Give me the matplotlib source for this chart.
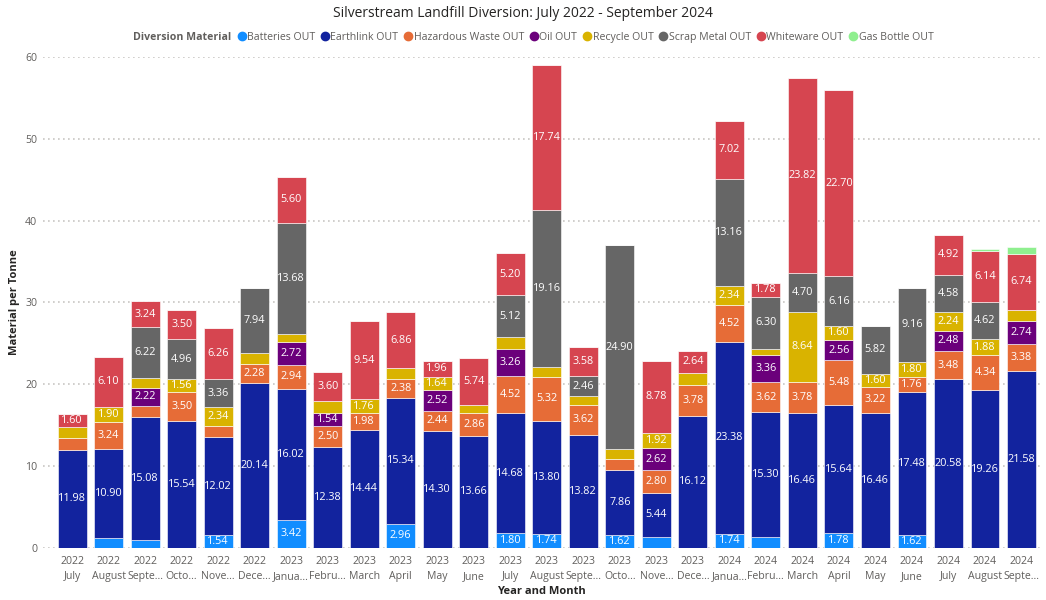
import matplotlib.pyplot as plt
import numpy as np
from matplotlib.lines import Line2D

plt.rcParams['font.family'] = ['Open Sans', 'DejaVu Sans']

years = ["2022"] * 6 + ["2023"] * 12 + ["2024"] * 9
months = ["July", "August", "Septe...", "Octo...", "Nove...", "Dece...",
          "Janua...", "Febru...", "March", "April", "May", "June",
          "July", "August", "Septe...", "Octo...", "Nove...", "Dece...",
          "Janua...", "Febru...", "March", "April", "May", "June",
          "July", "August", "Septe..."]

materials = ["Batteries OUT", "Earthlink OUT", "Hazardous Waste OUT", "Oil OUT",
             "Recycle OUT", "Scrap Metal OUT", "Whiteware OUT", "Gas Bottle OUT"]
colors = ["#118DFF", "#12239E", "#E66C37", "#6B007B",
          "#D9B300", "#666666", "#D64550", "#8FEF8F"]

batteries = [0, 1.22, 0.90, 0, 1.54, 0, 3.42, 0, 0, 2.96, 0, 0, 1.80, 1.74, 0,
             1.62, 1.30, 0, 1.74, 1.30, 0, 1.78, 0, 1.62, 0, 0, 0]
earthlink = [11.98, 10.90, 15.08, 15.54, 12.02, 20.14, 16.02, 12.38, 14.44, 15.34,
             14.30, 13.66, 14.68, 13.80, 13.82, 7.86, 5.44, 16.12, 23.38, 15.30,
             16.46, 15.64, 16.46, 17.48, 20.58, 19.26, 21.58]
hazardous = [1.45, 3.24, 1.38, 3.50, 1.34, 2.28, 2.94, 2.50, 1.98, 2.38, 2.44, 2.86,
             4.52, 5.32, 3.62, 1.38, 2.80, 3.78, 4.52, 3.62, 3.78, 5.48, 3.22, 1.76,
             3.48, 4.34, 3.38]
oil = [0, 0, 2.22, 0, 0, 0, 2.72, 1.54, 0, 0, 2.52, 0, 3.26, 0, 0, 0, 2.62, 0,
       0, 3.36, 0, 2.56, 0, 0, 2.48, 0, 2.74]
recycle = [1.35, 1.90, 1.14, 1.56, 2.34, 1.43, 0.98, 1.50, 1.76, 1.26, 1.64, 0.90,
           1.47, 1.30, 1.10, 1.22, 1.92, 1.50, 2.34, 0.77, 8.64, 1.60, 1.60, 1.80,
           2.24, 1.88, 1.43]
scrap = [0, 0, 6.22, 4.96, 3.36, 7.94, 13.68, 0, 0, 0, 0, 0, 5.12, 19.16, 2.46,
         24.90, 0, 0, 13.16, 6.30, 4.70, 6.16, 5.82, 9.16, 4.58, 4.62, 0]
whiteware = [1.60, 6.10, 3.24, 3.50, 6.26, 0, 5.60, 3.60, 9.54, 6.86, 1.96, 5.74,
             5.20, 17.74, 3.58, 0, 8.78, 2.64, 7.02, 1.78, 23.82, 22.70, 0, 0,
             4.92, 6.14, 6.74]
gas_bottle = [0] * 25 + [0.33, 0.94]

series = [batteries, earthlink, hazardous, oil, recycle, scrap, whiteware, gas_bottle]

fig = plt.figure(figsize=(10.46, 6), dpi=100)
ax = fig.add_axes([0.041, 0.087, 0.953, 0.818])

x = np.arange(len(months))
bottom = np.zeros(len(months))
for name, vals, col in zip(materials, series, colors):
    vals = np.array(vals)
    ax.bar(x, vals, 0.79, bottom=bottom, color=col, label=name, zorder=3,
           edgecolor='white', linewidth=0.4)
    for i, v in enumerate(vals):
        if v >= 1.52:
            ax.text(x[i], bottom[i] + v / 2, f"{v:.2f}", ha='center', va='center',
                    color='white', fontsize=7.8, zorder=4)
    bottom += vals

ax.set_ylim(0, 60)
ax.set_xlim(-0.8, 26.5)
ax.set_yticks(range(0, 61, 10))
ax.set_xticks(x)
ax.set_xticklabels([f"{y}\n{m}" for y, m in zip(years, months)], fontsize=7.6,
                   color='#605E5C', linespacing=1.5)
ax.tick_params(axis='y', labelsize=7.6, labelcolor='#605E5C', length=0, pad=4)
ax.tick_params(axis='x', length=0, pad=6)
ax.grid(axis='y', color='#C8C6C4', linestyle=(0, (1, 2)), linewidth=1.2, zorder=0)
for s in ax.spines.values():
    s.set_visible(False)

ax.set_ylabel("Material per Tonne", fontsize=8, fontweight='bold', color='#252423', labelpad=4)
ax.set_xlabel("Year and Month", fontsize=8, fontweight='bold', color='#252423', labelpad=3)

fig.text(0.5, 0.978, "Silverstream Landfill Diversion: July 2022 - September 2024",
         ha='center', va='center', fontsize=10, color='#252423')

handles = [Line2D([], [], linestyle='none', marker='o', markersize=0)]
labels = ["Diversion Material"]
for name, col in zip(materials, colors):
    handles.append(Line2D([], [], linestyle='none', marker='o', markersize=6,
                          markerfacecolor=col, markeredgecolor=col))
    labels.append(name)
leg = fig.legend(handles, labels, loc='center', bbox_to_anchor=(0.506, 0.938), ncol=9,
                 frameon=False, fontsize=7.6, handlelength=0.6, handletextpad=0.2,
                 columnspacing=0.65)
for t in leg.get_texts():
    t.set_color('#605E5C')
leg.get_texts()[0].set_fontweight('bold')

fig.savefig("out.png", dpi=100)
